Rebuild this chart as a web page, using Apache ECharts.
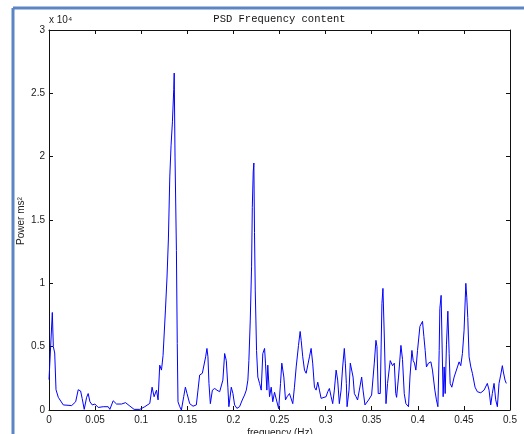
<!DOCTYPE html>
<html>
<head>
<meta charset="utf-8">
<script src="https://cdn.jsdelivr.net/npm/echarts@6/dist/echarts.min.js"></script>
<style>
  html, body { margin: 0; padding: 0; background: #fff; }
  #chart { width: 524px; height: 434px; }
</style>
</head>
<body>
<div id="chart"></div>
<script>
// frequency (Hz) and power (x 10^4 ms^2)
const freq = [
  0, 0.0036, 0.0047, 0.0062, 0.0076, 0.0101, 0.0155, 0.0246, 0.0289, 0.0317,
  0.0343, 0.0360, 0.0382, 0.0408, 0.0425, 0.0444, 0.0469, 0.0498, 0.0534, 0.0588,
  0.0642, 0.0660, 0.0696, 0.0733, 0.0787, 0.0830, 0.0877, 0.0923, 0.0985, 0.1039,
  0.1093, 0.1118, 0.1140, 0.1166, 0.1183, 0.1201, 0.1220, 0.1237, 0.1263, 0.1280,
  0.1295, 0.1310, 0.1324, 0.1339, 0.1353, 0.1358, 0.1367, 0.1382, 0.1391, 0.1399,
  0.1418, 0.1436, 0.1461, 0.1479, 0.1497, 0.1526, 0.1562, 0.1598, 0.1616, 0.1634,
  0.1663, 0.1681, 0.1699, 0.1713, 0.1724, 0.1735, 0.1750, 0.1772, 0.1797, 0.1821,
  0.1851, 0.1869, 0.1886, 0.1905, 0.1923, 0.1940, 0.1951, 0.1977, 0.1995, 0.2013,
  0.2038, 0.2067, 0.2096, 0.2121, 0.2140, 0.2157, 0.2168, 0.2183, 0.2197, 0.2205,
  0.2215, 0.2222, 0.2229, 0.2237, 0.2244, 0.2251, 0.2265, 0.2284, 0.2302, 0.2319,
  0.2338, 0.2348, 0.2363, 0.2373, 0.2392, 0.2410, 0.2427, 0.2446, 0.2464, 0.2491,
  0.2511, 0.2525, 0.2547, 0.2565, 0.2583, 0.2608, 0.2627, 0.2644, 0.2662, 0.2681,
  0.2706, 0.2724, 0.2735, 0.2752, 0.2771, 0.2789, 0.2806, 0.2825, 0.2843, 0.2860,
  0.2879, 0.2897, 0.2915, 0.2933, 0.2951, 0.3005, 0.3023, 0.3041, 0.3060, 0.3077,
  0.3095, 0.3114, 0.3131, 0.3149, 0.3168, 0.3185, 0.3203, 0.3214, 0.3225, 0.3233,
  0.3254, 0.3268, 0.3282, 0.3298, 0.3312, 0.3330, 0.3347, 0.3366, 0.3391, 0.3406,
  0.3427, 0.3466, 0.3499, 0.3528, 0.3546, 0.3557, 0.3571, 0.3593, 0.3611, 0.3622,
  0.3636, 0.3655, 0.3672, 0.3701, 0.3726, 0.3745, 0.3761, 0.3770, 0.3791, 0.3817,
  0.3834, 0.3853, 0.3871, 0.3899, 0.3915, 0.3936, 0.3950, 0.3964, 0.3979, 0.3997,
  0.4023, 0.4051, 0.4066, 0.4080, 0.4094, 0.4116, 0.4142, 0.4159, 0.4185, 0.4202,
  0.4218, 0.4232, 0.4239, 0.4253, 0.4261, 0.4275, 0.4286, 0.4297, 0.4311, 0.4326,
  0.4340, 0.4351, 0.4369, 0.4394, 0.4430, 0.4448, 0.4466, 0.4484, 0.4502, 0.4521,
  0.4531, 0.4542, 0.4556, 0.4575, 0.4592, 0.4621, 0.4646, 0.4683, 0.4719, 0.4754,
  0.4773, 0.4791, 0.4808, 0.4827, 0.4845, 0.4863, 0.4881, 0.4899, 0.4917, 0.4928,
  0.4946, 0.4960
]
const power = [
  0.24, 0.77, 0.50, 0.45, 0.16, 0.10, 0.04, 0.035, 0.065, 0.16,
  0.15, 0.09, 0.005, 0.10, 0.13, 0.065, 0.04, 0.047, 0.02, 0.026,
  0.026, 0.005, 0.073, 0.047, 0.047, 0.058, 0.031, 0.005, 0.005, 0.026,
  0.052, 0.18, 0.105, 0.157, 0.08, 0.354, 0.315, 0.43, 0.79, 1.05,
  1.35, 1.84, 2.09, 2.28, 2.53, 2.66, 1.99, 1.26, 0.525, 0.065,
  0.026, 0.0, 0.105, 0.18, 0.13, 0.05, 0.03, 0.04, 0.157, 0.276,
  0.29, 0.30, 0.42, 0.486, 0.42, 0.21, 0.05, 0.157, 0.17, 0.157,
  0.144, 0.13, 0.236, 0.446, 0.39, 0.18, 0.026, 0.18, 0.13, 0.04,
  0.013, 0.026, 0.079, 0.118, 0.157, 0.236, 0.39, 0.71, 1.13, 1.60,
  1.88, 1.95, 1.40, 0.94, 0.71, 0.47, 0.26, 0.21, 0.157, 0.446,
  0.486, 0.37, 0.157, 0.354, 0.105, 0.18, 0.065, 0.14, 0.13, 0.01,
  0.21, 0.37, 0.26, 0.08, 0.105, 0.13, 0.118, 0.05, 0.18, 0.34,
  0.51, 0.62, 0.55, 0.42, 0.315, 0.29, 0.29, 0.42, 0.486, 0.37,
  0.18, 0.157, 0.22, 0.157, 0.092, 0.105, 0.144, 0.17, 0.105, 0.05,
  0.157, 0.315, 0.236, 0.05, 0.157, 0.34, 0.486, 0.37, 0.21, 0.026,
  0.157, 0.37, 0.37, 0.26, 0.13, 0.105, 0.079, 0.157, 0.26, 0.157,
  0.04, 0.079, 0.118, 0.37, 0.55, 0.50, 0.13, 0.13, 0.84, 0.96,
  0.60, 0.05, 0.21, 0.39, 0.35, 0.37, 0.13, 0.10, 0.26, 0.51,
  0.40, 0.13, 0.05, 0.026, 0.26, 0.47, 0.39, 0.37, 0.315, 0.47,
  0.66, 0.70, 0.58, 0.47, 0.34, 0.37, 0.38, 0.315, 0.157, 0.08,
  0.026, 0.47, 0.80, 0.905, 0.60, 0.105, 0.34, 0.13, 0.52, 0.78,
  0.446, 0.21, 0.18, 0.26, 0.34, 0.38, 0.35, 0.446, 0.63, 1.0,
  0.89, 0.73, 0.42, 0.34, 0.29, 0.18, 0.144, 0.136, 0.157, 0.21,
  0.157, 0.04, 0.13, 0.21, 0.08, 0.026, 0.21, 0.276, 0.35, 0.30,
  0.236, 0.21
]
const yTicks = [0, 0.5, 1, 1.5, 2, 2.5, 3]
const xTicks = [0, 0.05, 0.1, 0.15, 0.2, 0.25, 0.3, 0.35, 0.4, 0.45, 0.5]

const chart = echarts.init(document.getElementById('chart'))

const axisLine = { lineStyle: { color: '#111', width: 1 } }
const tickIn = { inside: true, length: 4, lineStyle: { color: '#111' } }
const tickFont = { color: '#1a1a1a', fontSize: 10, fontFamily: 'Liberation Sans' }

chart.setOption({
  animation: false,
  backgroundColor: '#fff',
  grid: { left: 49, right: 14, top: 30, bottom: 24 },
  xAxis: [
    {
      type: 'value',
      min: xTicks[0],
      max: xTicks[xTicks.length - 1],
      interval: 0.05,
      axisLine: { ...axisLine, onZero: false },
      axisTick: tickIn,
      axisLabel: { ...tickFont, margin: 5, formatter: (v) => String(+v.toFixed(2)) },
      splitLine: { show: false }
    },
    {
      type: 'value',
      position: 'top',
      min: xTicks[0],
      max: xTicks[xTicks.length - 1],
      interval: 0.05,
      axisLine: { ...axisLine, onZero: false },
      axisTick: tickIn,
      axisLabel: { show: false },
      splitLine: { show: false }
    }
  ],
  yAxis: [
    {
      type: 'value',
      min: yTicks[0],
      max: yTicks[yTicks.length - 1],
      interval: 0.5,
      axisLine: { ...axisLine, show: true, onZero: false },
      axisTick: { ...tickIn, show: true },
      axisLabel: { ...tickFont, margin: 4 },
      splitLine: { show: false }
    },
    {
      type: 'value',
      position: 'right',
      min: yTicks[0],
      max: yTicks[yTicks.length - 1],
      interval: 0.5,
      axisLine: { ...axisLine, show: true, onZero: false },
      axisTick: { ...tickIn, show: true },
      axisLabel: { show: false },
      splitLine: { show: false }
    }
  ],
  series: [
    {
      type: 'line',
      data: freq.map((f, i) => [f, power[i]]),
      showSymbol: false,
      lineStyle: { color: '#0000ff', width: 1 },
      itemStyle: { color: '#0000ff' }
    }
  ],
  graphic: [
    // page frame
    { type: 'line', shape: { x1: 13, y1: 8, x2: 524, y2: 8 }, style: { stroke: '#5b86c3', lineWidth: 3 } },
    { type: 'line', shape: { x1: 13, y1: 8, x2: 13, y2: 434 }, style: { stroke: '#5b86c3', lineWidth: 3 } },
    {
      type: 'text', x: 279.5, y: 19,
      style: { text: 'PSD Frequency content', font: '10.5px "Liberation Mono"', fill: '#111', align: 'center', verticalAlign: 'middle' }
    },
    {
      type: 'text', x: 49, y: 20,
      style: { text: 'x 10⁴', font: '10px "Liberation Sans"', fill: '#222', align: 'left', verticalAlign: 'middle' }
    },
    {
      type: 'text', x: 21, y: 221, rotation: Math.PI / 2,
      style: { text: 'Power ms²', font: '10px "Liberation Sans"', fill: '#222', align: 'center', verticalAlign: 'middle' }
    },
    {
      type: 'text', x: 280, y: 433,
      style: { text: 'frequency (Hz)', font: '10px "Liberation Sans"', fill: '#222', align: 'center', verticalAlign: 'middle' }
    }
  ]
})
</script>
</body>
</html>
